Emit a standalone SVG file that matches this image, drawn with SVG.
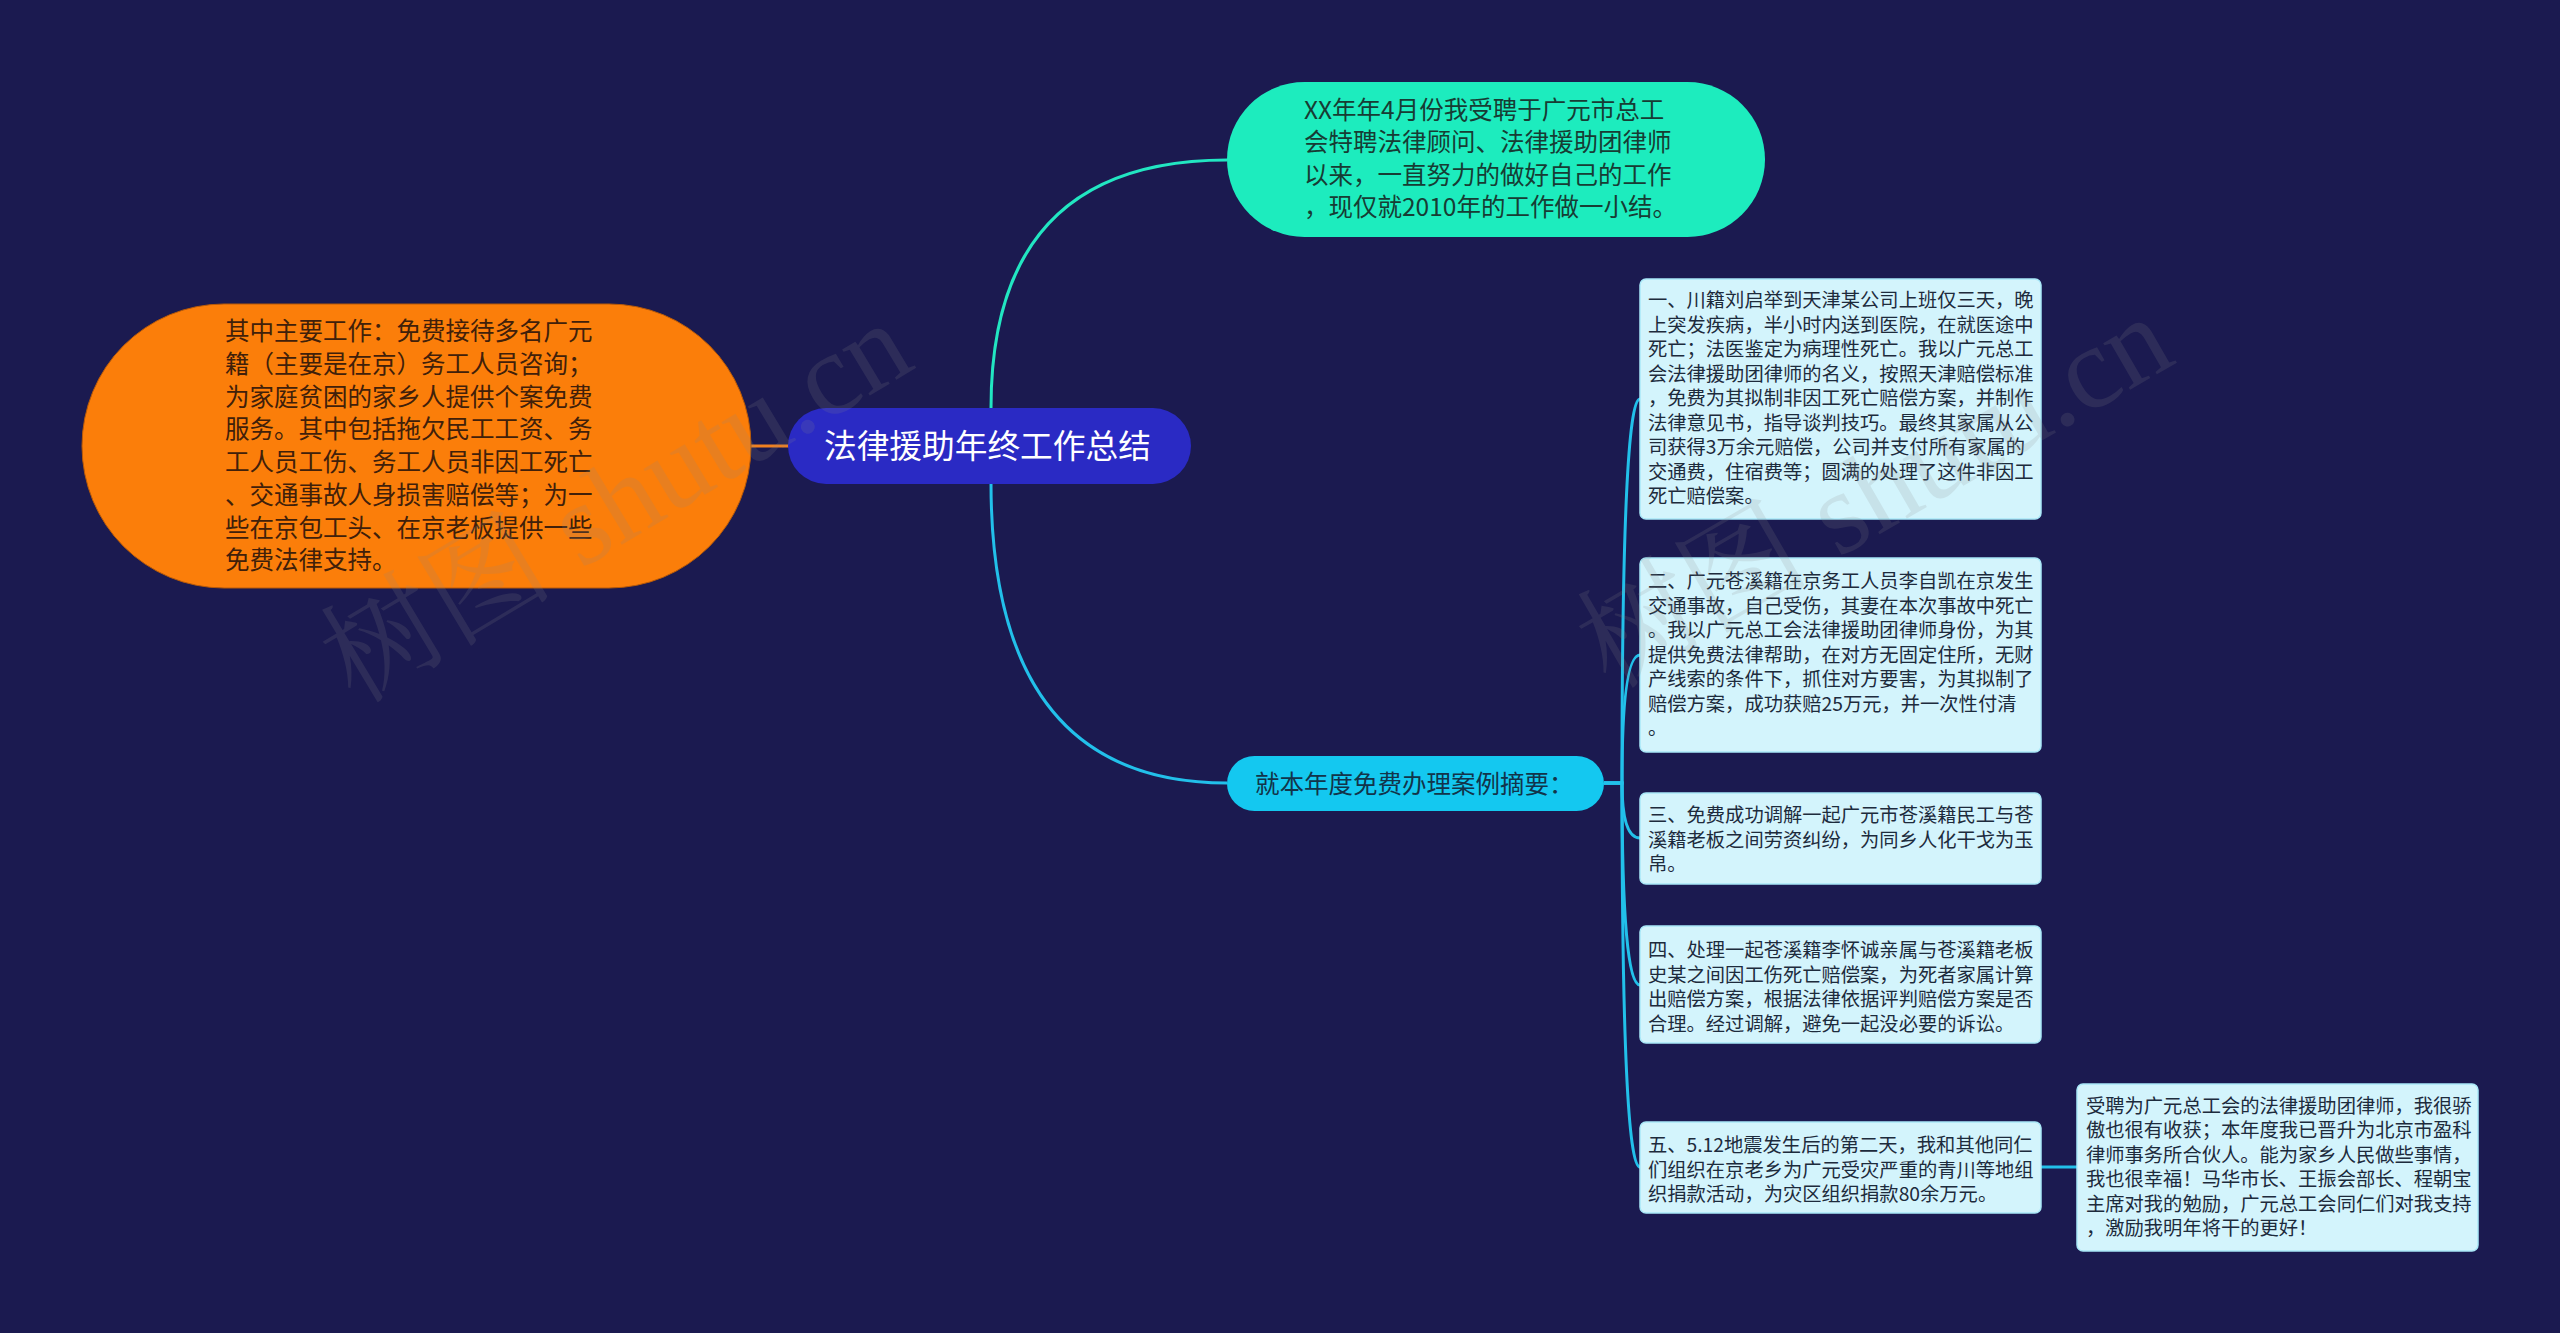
<svg xmlns="http://www.w3.org/2000/svg" width="2560" height="1333" viewBox="0 0 2560 1333">
<style>
text{font-family:"Noto Sans CJK SC","Noto Sans",sans-serif;}
.box{fill:#d3f4fc;stroke:#a9e8f8;stroke-width:1.5;}
.bt{font-size:19.3px;fill:#1d2b3c;}
.big{font-size:24.5px;}
.lnk{fill:none;stroke:#22c0ea;stroke-width:3;}
.wm{font-family:"Liberation Serif","Noto Serif CJK SC","Noto Sans CJK SC",serif;font-size:117px;fill:#8a8a8a;opacity:0.16;}
</style>
<rect width="2560" height="1333" fill="#1b1a50"/>
<g id="connectors">
<path d="M751 446 L789 446" stroke="#f08020" stroke-width="3" fill="none"/>
<path d="M991 408 Q991 160 1227 160" stroke="#22e6c2" stroke-width="3" fill="none"/>
<path class="lnk" d="M991 483 Q991 783 1227 783"/>
<path class="lnk" d="M1604 783 L1622 783 Q1622 399 1640 399"/>
<path class="lnk" d="M1604 783 L1622 783 Q1622 655 1640 655"/>
<path class="lnk" d="M1604 783 L1622 783 Q1622 838 1640 838"/>
<path class="lnk" d="M1604 783 L1622 783 Q1622 985 1640 985"/>
<path class="lnk" d="M1604 783 L1622 783 Q1622 1167 1640 1167"/>
<path class="lnk" d="M2041 1167 L2077 1167"/>
</g>
<g id="root">
<rect x="788" y="408" width="403" height="76" rx="38" fill="#2a2ac4"/>
<text x="824" y="458" font-size="32.7" fill="#ffffff">法律援助年终工作总结</text>
</g>
<g id="intro">
<rect x="1227" y="82" width="538" height="155" rx="77.5" fill="#1decbe"/>
<text class="big" fill="#173c34">
<tspan x="1304" y="118.5">XX年年4月份我受聘于广元市总工</tspan>
<tspan x="1304" y="151">会特聘法律顾问、法律援助团律师</tspan>
<tspan x="1304" y="183.7">以来，一直努力的做好自己的工作</tspan>
<tspan x="1304" y="216.4">，现仅就2010年的工作做一小结。</tspan>
</text>
</g>
<g id="main-work">
<rect x="82" y="304" width="669" height="284" rx="142" fill="#fb7e0a" stroke="#b85a08" stroke-width="1"/>
<text class="big" fill="#40200a">
<tspan x="225" y="340.3">其中主要工作：免费接待多名广元</tspan>
<tspan x="225" y="373">籍（主要是在京）务工人员咨询；</tspan>
<tspan x="225" y="405.7">为家庭贫困的家乡人提供个案免费</tspan>
<tspan x="225" y="438.4">服务。其中包括拖欠民工工资、务</tspan>
<tspan x="225" y="471.1">工人员工伤、务工人员非因工死亡</tspan>
<tspan x="225" y="503.8">、交通事故人身损害赔偿等；为一</tspan>
<tspan x="225" y="536.5">些在京包工头、在京老板提供一些</tspan>
<tspan x="225" y="569.2">免费法律支持。</tspan>
</text>
</g>
<g id="cases">
<rect x="1227" y="756" width="377" height="55" rx="27.5" fill="#14c8f0"/>
<text x="1255" y="792.5" class="big" fill="#12344a">就本年度免费办理案例摘要：</text>
</g>
<g id="case1">
<rect class="box" x="1640" y="279" width="401" height="240" rx="6"/>
<text class="bt">
<tspan x="1648" y="307.4">一、川籍刘启举到天津某公司上班仅三天，晚</tspan>
<tspan x="1648" y="331.9">上突发疾病，半小时内送到医院，在就医途中</tspan>
<tspan x="1648" y="356.4">死亡；法医鉴定为病理性死亡。我以广元总工</tspan>
<tspan x="1648" y="380.9">会法律援助团律师的名义，按照天津赔偿标准</tspan>
<tspan x="1648" y="405.4">，免费为其拟制非因工死亡赔偿方案，并制作</tspan>
<tspan x="1648" y="429.9">法律意见书，指导谈判技巧。最终其家属从公</tspan>
<tspan x="1648" y="454.4">司获得3万余元赔偿，公司并支付所有家属的</tspan>
<tspan x="1648" y="478.9">交通费，住宿费等；圆满的处理了这件非因工</tspan>
<tspan x="1648" y="503.4">死亡赔偿案。</tspan>
</text>
</g>
<g id="case2">
<rect class="box" x="1640" y="558" width="401" height="194" rx="6"/>
<text class="bt">
<tspan x="1648" y="588.4">二、广元苍溪籍在京务工人员李自凯在京发生</tspan>
<tspan x="1648" y="612.9">交通事故，自己受伤，其妻在本次事故中死亡</tspan>
<tspan x="1648" y="637.4">。我以广元总工会法律援助团律师身份，为其</tspan>
<tspan x="1648" y="661.9">提供免费法律帮助，在对方无固定住所，无财</tspan>
<tspan x="1648" y="686.4">产线索的条件下，抓住对方要害，为其拟制了</tspan>
<tspan x="1648" y="710.9">赔偿方案，成功获赔25万元，并一次性付清</tspan>
<tspan x="1648" y="735.4">。</tspan>
</text>
</g>
<g id="case3">
<rect class="box" x="1640" y="793" width="401" height="91" rx="6"/>
<text class="bt">
<tspan x="1648" y="822.4">三、免费成功调解一起广元市苍溪籍民工与苍</tspan>
<tspan x="1648" y="846.9">溪籍老板之间劳资纠纷，为同乡人化干戈为玉</tspan>
<tspan x="1648" y="871.4">帛。</tspan>
</text>
</g>
<g id="case4">
<rect class="box" x="1640" y="926" width="401" height="117" rx="6"/>
<text class="bt">
<tspan x="1648" y="957.4">四、处理一起苍溪籍李怀诚亲属与苍溪籍老板</tspan>
<tspan x="1648" y="981.9">史某之间因工伤死亡赔偿案，为死者家属计算</tspan>
<tspan x="1648" y="1006.4">出赔偿方案，根据法律依据评判赔偿方案是否</tspan>
<tspan x="1648" y="1030.9">合理。经过调解，避免一起没必要的诉讼。</tspan>
</text>
</g>
<g id="case5">
<rect class="box" x="1640" y="1122" width="401" height="91" rx="6"/>
<text class="bt">
<tspan x="1648" y="1152.4">五、5.12地震发生后的第二天，我和其他同仁</tspan>
<tspan x="1648" y="1176.9">们组织在京老乡为广元受灾严重的青川等地组</tspan>
<tspan x="1648" y="1201.4">织捐款活动，为灾区组织捐款80余万元。</tspan>
</text>
</g>
<g id="closing">
<rect class="box" x="2077" y="1084" width="401" height="167" rx="6"/>
<text class="bt">
<tspan x="2086" y="1112.9">受聘为广元总工会的法律援助团律师，我很骄</tspan>
<tspan x="2086" y="1137.4">傲也很有收获；本年度我已晋升为北京市盈科</tspan>
<tspan x="2086" y="1161.9">律师事务所合伙人。能为家乡人民做些事情，</tspan>
<tspan x="2086" y="1186.4">我也很幸福！马华市长、王振会部长、程朝宝</tspan>
<tspan x="2086" y="1210.9">主席对我的勉励，广元总工会同仁们对我支持</tspan>
<tspan x="2086" y="1235.4">，激励我明年将干的更好！</tspan>
</text>
</g>
<g id="watermark">
<text class="wm" transform="translate(355 705) rotate(-31)">树图 shutu.cn</text>
<text class="wm" transform="translate(1610 690) rotate(-30)">树图 shutu.cn</text>
</g>
</svg>
